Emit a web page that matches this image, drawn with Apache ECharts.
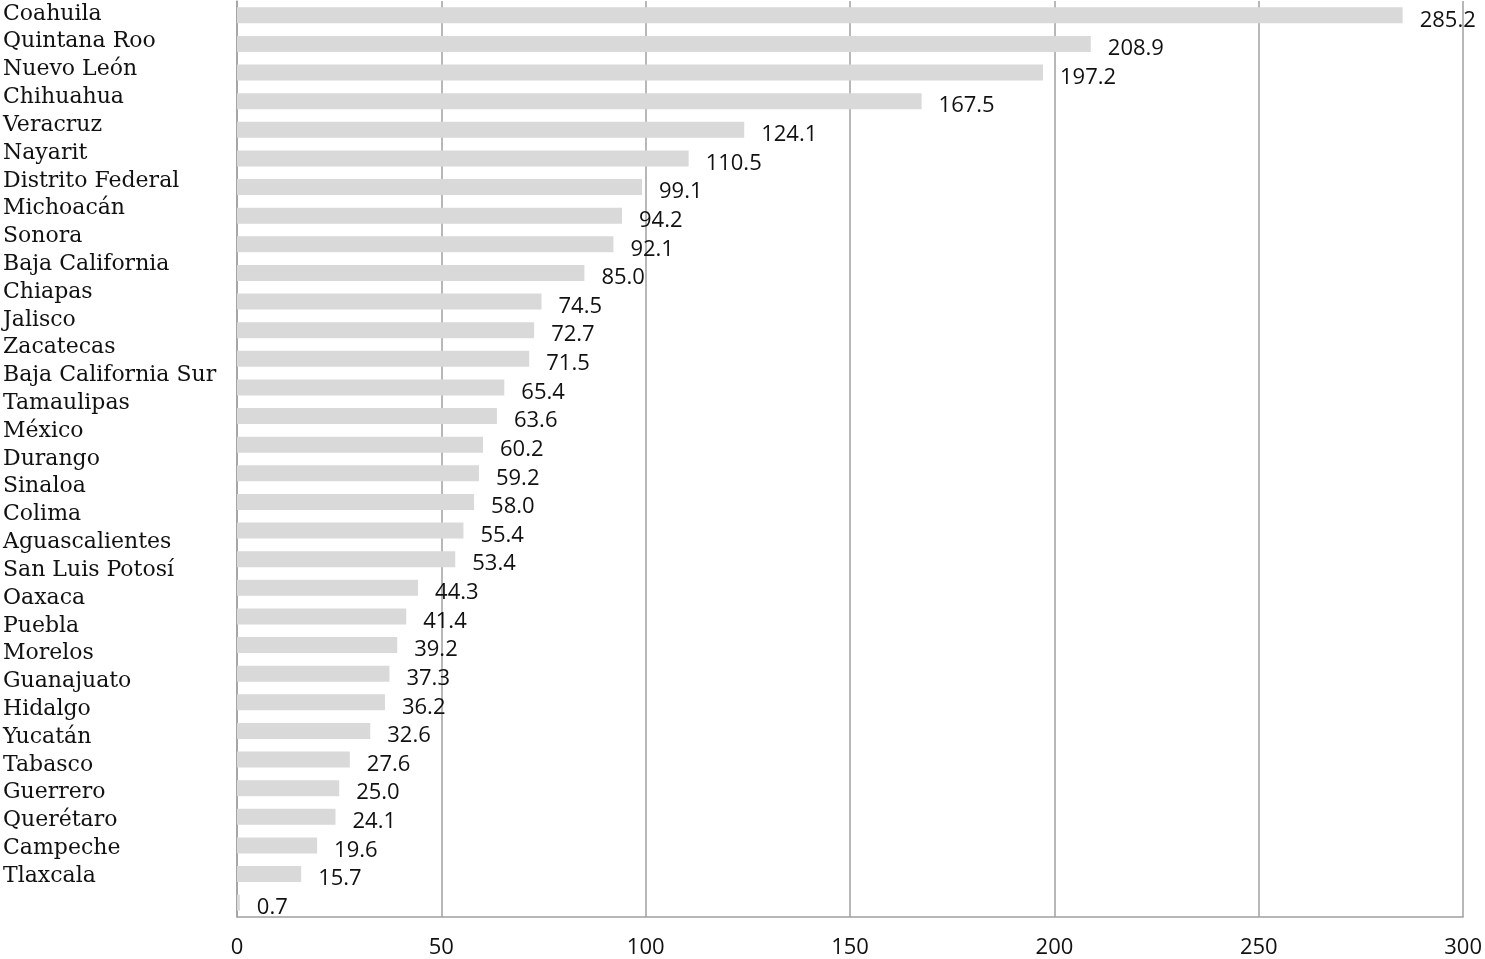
<!DOCTYPE html>
<html lang="es">
<head>
<meta charset="UTF-8">
<title>Estados</title>
<style>
  html, body { margin: 0; padding: 0; background: #fff; }
  #main { width: 1485px; height: 959px; }
</style>
<script src="https://cdn.jsdelivr.net/npm/echarts@6/dist/echarts.min.js"></script>
</head>
<body>
<div id="main"></div>
<script>
var states = ['Coahuila', 'Quintana Roo', 'Nuevo León', 'Chihuahua', 'Veracruz', 'Nayarit',
  'Distrito Federal', 'Michoacán', 'Sonora', 'Baja California', 'Chiapas', 'Jalisco',
  'Zacatecas', 'Baja California Sur', 'Tamaulipas', 'México', 'Durango', 'Sinaloa',
  'Colima', 'Aguascalientes', 'San Luis Potosí', 'Oaxaca', 'Puebla', 'Morelos',
  'Guanajuato', 'Hidalgo', 'Yucatán', 'Tabasco', 'Guerrero', 'Querétaro', 'Campeche', 'Tlaxcala'];
var values = [285.2, 208.9, 197.2, 167.5, 124.1, 110.5, 99.1, 94.2, 92.1, 85.0, 74.5, 72.7,
  71.5, 65.4, 63.6, 60.2, 59.2, 58.0, 55.4, 53.4, 44.3, 41.4, 39.2, 37.3, 36.2, 32.6,
  27.6, 25.0, 24.1, 19.6, 15.7, 0.7];
var xTicks = [0, 50, 100, 150, 200, 250, 300];

var numFont = '"Open Sans", sans-serif';
var lineColor = '#a0a0a0';

var chart = echarts.init(document.getElementById('main'));
chart.setOption({
  animation: false,
  backgroundColor: '#fff',
  grid: [
    // bars
    { left: 237, right: 19, top: 1, height: 918 },
    // the state names sit on a slightly tighter spacing than the bars
    { left: 237, right: 19, top: -6, height: 896 }
  ],
  xAxis: [{
    gridIndex: 0,
    type: 'value',
    min: xTicks[0],
    max: xTicks[xTicks.length - 1],
    interval: 50,
    axisLine: { show: true, lineStyle: { color: lineColor, width: 1.5 } },
    axisTick: { show: false },
    axisLabel: { margin: 20, color: '#111', fontFamily: numFont, fontSize: 22 },
    splitLine: { show: true, lineStyle: { color: lineColor, width: 1.5 } }
  }, {
    gridIndex: 1,
    type: 'value',
    show: false,
    min: 0,
    max: 300
  }],
  yAxis: [{
    gridIndex: 0,
    type: 'category',
    inverse: true,
    data: states,
    axisLine: { show: true, lineStyle: { color: lineColor, width: 1.5 } },
    axisTick: { show: false },
    axisLabel: { show: false }
  }, {
    gridIndex: 1,
    type: 'category',
    inverse: true,
    data: states,
    axisLine: { show: false },
    axisTick: { show: false },
    axisLabel: {
      interval: 0,
      margin: 236,
      align: 'left',
      color: '#111',
      fontFamily: '"DejaVu Serif", serif',
      fontSize: 22
    }
  }],
  series: [{
    type: 'bar',
    xAxisIndex: 0,
    yAxisIndex: 0,
    data: values,
    barCategoryGap: '44%',
    itemStyle: { color: '#d9d9d9' },
    label: {
      show: true,
      position: 'right',
      distance: 17,
      offset: [0, 5],
      color: '#111',
      fontFamily: numFont,
      fontSize: 22,
      formatter: function (p) { return p.value.toFixed(1); }
    }
  }]
});
</script>
</body>
</html>
